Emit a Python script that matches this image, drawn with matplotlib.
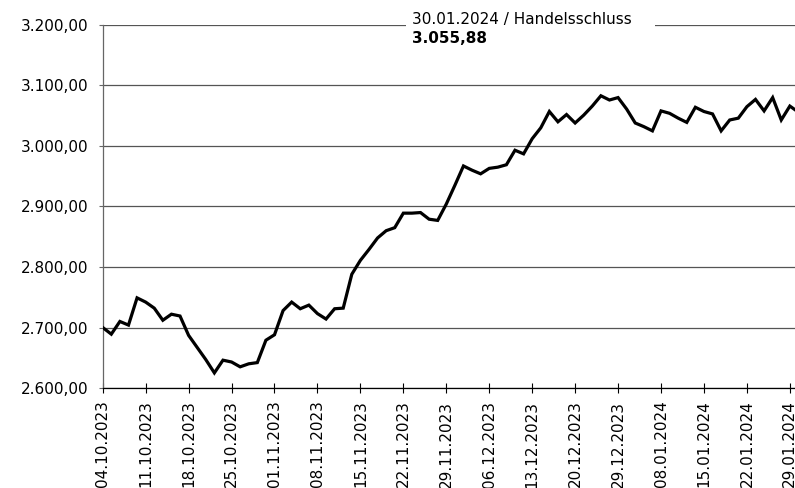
import matplotlib.pyplot as plt
from matplotlib.patches import Rectangle

# Schlusskurse je Handelstag, 04.10.2023 bis 30.01.2024
closes = [
    2700, 2689, 2710, 2704, 2749, 2742, 2732, 2712, 2722, 2719,
    2687, 2667, 2647, 2625, 2646, 2643, 2635, 2640, 2642, 2679,
    2688, 2728, 2742, 2731, 2737, 2723, 2714, 2731, 2732, 2788,
    2811, 2829, 2848, 2860, 2865, 2889, 2889, 2890, 2879, 2877,
    2904, 2935, 2967, 2960, 2954, 2963, 2965, 2969, 2993, 2987,
    3012, 3030, 3057, 3040, 3052, 3038, 3051, 3066, 3083, 3076,
    3080, 3061, 3038, 3032, 3025, 3058, 3054, 3046, 3039, 3064,
    3057, 3053, 3025, 3043, 3046, 3065, 3077, 3058, 3080, 3043,
    3066, 3055.88,
]
last_date = "30.01.2024"

# Beschriftung jedes fuenften Handelstags
tick_labels = [
    "04.10.2023", "11.10.2023", "18.10.2023", "25.10.2023", "01.11.2023",
    "08.11.2023", "15.11.2023", "22.11.2023", "29.11.2023", "06.12.2023",
    "13.12.2023", "20.12.2023", "29.12.2023", "08.01.2024", "15.01.2024",
    "22.01.2024", "29.01.2024",
]
y_ticks = [2600, 2700, 2800, 2900, 3000, 3100, 3200]
TICK_STEP = 5


def de_format(v):
    s = f"{v:,.2f}"
    return s.replace(",", "X").replace(".", ",").replace("X", ".")


plt.rcParams["font.family"] = ["DejaVu Sans"]

fig = plt.figure(figsize=(7.95, 4.88), dpi=100)
ax = fig.add_axes([0.1292, 0.2049, 0.8708, 0.7439])

ax.plot(range(len(closes)), closes, color="black", lw=2.3, solid_joinstyle="miter", zorder=3)

ax.set_xlim(0, 80.6)
ax.set_ylim(y_ticks[0], y_ticks[-1])
ax.set_yticks(y_ticks)
ax.set_yticklabels([de_format(v) for v in y_ticks])
ax.set_xticks(range(0, len(tick_labels) * TICK_STEP, TICK_STEP))
ax.set_xticklabels(tick_labels, rotation=90, va="top")

ax.grid(axis="y", color="#555555", lw=0.9)
ax.set_axisbelow(True)
for side in ("top", "right"):
    ax.spines[side].set_visible(False)
ax.spines["left"].set_color("#666666")
ax.spines["left"].set_linewidth(0.9)
ax.spines["bottom"].set_color("black")
ax.spines["bottom"].set_linewidth(0.9)

ax.tick_params(axis="x", direction="inout", length=7, width=0.8, pad=5.5, labelsize=11)
ax.tick_params(axis="y", direction="out", length=3, width=0.8, pad=7, labelsize=11,
               color="#666666")

# Hinweis zum letzten Schlusskurs; die oberste Gitterlinie wird dafuer ausgespart
ax.add_patch(Rectangle((0.438, 0.985), 0.36, 0.03, transform=ax.transAxes,
                       facecolor="white", edgecolor="none", clip_on=False, zorder=4))
ax.text(0.447, 1.0138, f"{last_date} / Handelsschluss", transform=ax.transAxes,
        fontsize=11, ha="left", va="center", zorder=5)
ax.text(0.447, 0.962, de_format(closes[-1]), transform=ax.transAxes,
        fontsize=11, fontweight="bold", ha="left", va="center", zorder=5)

fig.savefig("out.png", dpi=100)
